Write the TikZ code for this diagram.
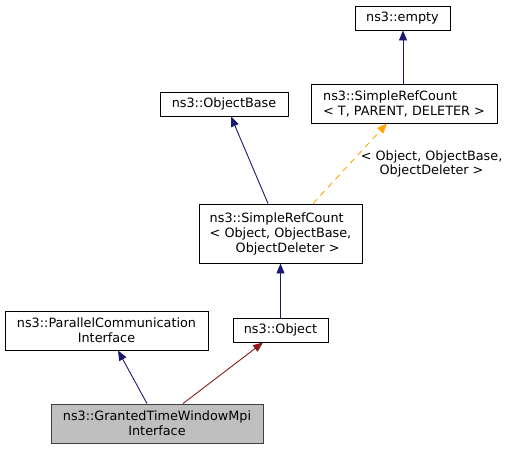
\documentclass[tikz,border=0pt]{standalone}
\usepackage{fontspec}
\setmainfont{DejaVu Sans}
\usetikzlibrary{arrows.meta}
\definecolor{edgeblue}{HTML}{191970}
\definecolor{edgered}{HTML}{8B1A1A}
\definecolor{edgeorange}{HTML}{FFA500}
\definecolor{curfill}{HTML}{BFBFBF}
\tikzset{
  cls/.style={draw=black, line width=0.9pt, inner sep=0pt, fill=white,
    font=\fontsize{12.8}{15}\selectfont},
  pub/.style={edgeblue, line width=0.9pt, -{Triangle[length=10pt,width=8pt]}},
  pro/.style={edgered, line width=0.9pt, -{Triangle[length=10pt,width=8pt]}},
  tpl/.style={edgeorange, line width=0.9pt, dashed, dash pattern=on 6pt off 5pt,
    -{Triangle[length=10pt,width=8pt]}}
}
\begin{document}
\begin{tikzpicture}[x=1pt,y=-1pt]
    \useasboundingbox (0,0) rectangle (509,451);
    \node [cls, minimum width=95pt, minimum height=24pt] (empty) at (402.5,18) {ns3::empty};
    \node [cls, minimum width=186pt, minimum height=39pt, align=left] (srct) at (404,103.5)
        {ns3::SimpleRefCount\\< T, PARENT, DELETER >};
    \node [cls, minimum width=128pt, minimum height=24pt] (objbase) at (224,104) {ns3::ObjectBase};
    \node [cls, minimum width=163pt, minimum height=59pt, align=left] (srcobj) at (280.5,233.5)
        {ns3::SimpleRefCount\\< Object, ObjectBase,\\\hspace*{26pt}ObjectDeleter >};
    \node [cls, minimum width=203pt, minimum height=39pt, align=center] (parcom) at (106.5,330.5)
        {ns3::ParallelCommunication\\Interface};
    \node [cls, minimum width=95pt, minimum height=24pt] (object) at (280.5,330) {ns3::Object};
    \node [cls, fill=curfill, draw=black!75, minimum width=212pt, minimum height=39pt, align=center] (granted) at (157,423.5)
        {ns3::GrantedTimeWindowMpi\\Interface};
    % edges
    \draw [pub] ([xshift=-1pt]srct.north) -- ([xshift=0.5pt]empty.south);
    \draw [pub] ([xshift=-12.5pt]srcobj.north) -- ([xshift=7pt]objbase.south);
    \draw [tpl] ([xshift=32.5pt]srcobj.north) -- ([xshift=-17pt]srct.south)
        node [pos=0.5, right=7pt, align=center, font=\fontsize{12.8}{14}\selectfont, text=black]
        {< Object, ObjectBase,\\ObjectDeleter >};
    \draw [pub] (object.north) -- (srcobj.south);
    \draw [pub] ([xshift=-10pt]granted.north) -- ([xshift=11.5pt]parcom.south);
    \draw [pro] ([xshift=26pt]granted.north) -- ([xshift=-17.5pt]object.south);
\end{tikzpicture}
\end{document}
